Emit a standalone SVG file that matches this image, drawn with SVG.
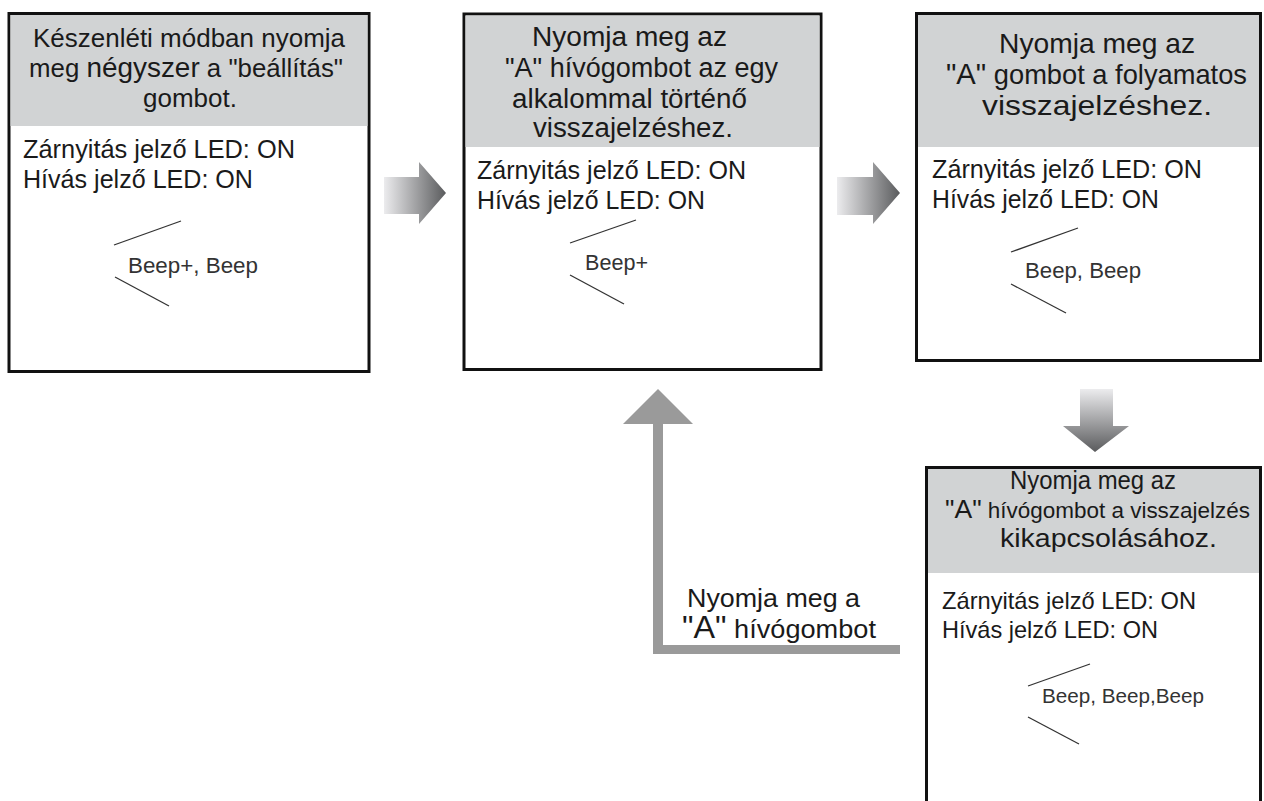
<svg xmlns="http://www.w3.org/2000/svg" width="1264" height="801" viewBox="0 0 1264 801">
<defs>
<linearGradient id="gh" x1="0" y1="0" x2="1" y2="0">
<stop offset="0" stop-color="#ececee"/>
<stop offset="1" stop-color="#5a5b5d"/>
</linearGradient>
<linearGradient id="gv" x1="0" y1="0" x2="0" y2="1">
<stop offset="0" stop-color="#ececee"/>
<stop offset="1" stop-color="#5a5b5d"/>
</linearGradient>
</defs>
<style>
text{font-family:"Liberation Sans",Arial,sans-serif;fill:#1a1a1a}
.box{fill:#fff;stroke:#111;stroke-width:3}
.hd{fill:#d1d3d4}
.bp{fill:#333}
.sl{stroke:#333;stroke-width:1.3;fill:none}
</style>
<rect width="1264" height="801" fill="#fff"/>

<g id="connectors">
<polygon points="384,177 419,177 419,162 446,193 419,224 419,214 384,214" fill="url(#gh)"/>
<polygon points="837,177 873,177 873,162 900,193 873,224 873,215 837,215" fill="url(#gh)"/>
<polygon points="1080,389 1113,389 1113,426 1129,426 1095,452 1063,426 1080,426" fill="url(#gv)"/>
<path d="M653,424 H623 L658,389 L693,424 H663 V645 H900 V654 H653 Z" fill="#9a9a9a"/>
<text x="687" y="607" font-size="26" textLength="173" lengthAdjust="spacingAndGlyphs">Nyomja meg a</text>
<text x="682" y="638" font-size="26" textLength="194" lengthAdjust="spacingAndGlyphs"><tspan font-size="31">"A"</tspan> hívógombot</text>
</g>

<g id="node1">
<rect class="box" x="9" y="13.5" width="360" height="358"/>
<rect class="hd" x="10.5" y="15" width="357" height="111"/>
<text x="33" y="47" font-size="25" textLength="312" lengthAdjust="spacingAndGlyphs">Készenléti módban nyomja</text>
<text x="29" y="77" font-size="25" textLength="314" lengthAdjust="spacingAndGlyphs">meg <tspan font-size="27">négyszer</tspan> a "beállítás"</text>
<text x="143" y="107" font-size="25" textLength="94" lengthAdjust="spacingAndGlyphs">gombot.</text>
<text x="23" y="158" font-size="25" textLength="272" lengthAdjust="spacingAndGlyphs">Zárnyitás jelző LED: ON</text>
<text x="23" y="188" font-size="25" textLength="230" lengthAdjust="spacingAndGlyphs">Hívás jelző LED: ON</text>
<line class="sl" x1="114" y1="245" x2="181" y2="221"/>
<line class="sl" x1="115" y1="277" x2="169" y2="306"/>
<text class="bp" x="128" y="273" font-size="22" textLength="130" lengthAdjust="spacingAndGlyphs">Beep+, Beep</text>
</g>

<g id="node2">
<rect class="box" x="464" y="14" width="357" height="355.5"/>
<rect class="hd" x="465.5" y="15.5" width="354" height="131.5"/>
<text x="532" y="46" font-size="27" textLength="195" lengthAdjust="spacingAndGlyphs">Nyomja meg az</text>
<text x="505" y="77" font-size="27" textLength="273" lengthAdjust="spacingAndGlyphs">"A" hívógombot az egy</text>
<text x="512" y="108" font-size="27" textLength="235" lengthAdjust="spacingAndGlyphs">alkalommal történő</text>
<text x="533" y="137" font-size="27" textLength="200" lengthAdjust="spacingAndGlyphs">visszajelzéshez.</text>
<text x="477" y="179" font-size="25" textLength="269" lengthAdjust="spacingAndGlyphs">Zárnyitás jelző LED: ON</text>
<text x="477" y="209" font-size="25" textLength="228" lengthAdjust="spacingAndGlyphs">Hívás jelző LED: ON</text>
<line class="sl" x1="570" y1="243" x2="636" y2="220"/>
<line class="sl" x1="570" y1="275" x2="624" y2="304"/>
<text class="bp" x="585" y="270" font-size="22" textLength="63" lengthAdjust="spacingAndGlyphs">Beep+</text>
</g>

<g id="node3">
<rect class="box" x="916.5" y="13.5" width="344" height="347"/>
<rect class="hd" x="918" y="15" width="341" height="132"/>
<text x="999" y="53" font-size="28" textLength="196" lengthAdjust="spacingAndGlyphs">Nyomja meg az</text>
<text x="946" y="84" font-size="28" textLength="301" lengthAdjust="spacingAndGlyphs"><tspan font-size="30">"A"</tspan> gombot a folyamatos</text>
<text x="982" y="115" font-size="28" textLength="230" lengthAdjust="spacingAndGlyphs">visszajelzéshez.</text>
<text x="932" y="178" font-size="25" textLength="270" lengthAdjust="spacingAndGlyphs">Zárnyitás jelző LED: ON</text>
<text x="932" y="208" font-size="25" textLength="227" lengthAdjust="spacingAndGlyphs">Hívás jelző LED: ON</text>
<line class="sl" x1="1011" y1="252" x2="1078" y2="228"/>
<line class="sl" x1="1011" y1="284" x2="1066" y2="313"/>
<text class="bp" x="1025" y="278" font-size="22" textLength="116" lengthAdjust="spacingAndGlyphs">Beep, Beep</text>
</g>

<g id="node4">
<path d="M926.5,801 V467.5 H1260.5 V801" fill="#fff" stroke="#111" stroke-width="3"/>
<rect class="hd" x="928" y="469" width="331" height="104"/>
<text x="1010" y="489" font-size="25" textLength="166" lengthAdjust="spacingAndGlyphs">Nyomja meg az</text>
<text x="945" y="518" font-size="22" textLength="305" lengthAdjust="spacingAndGlyphs"><tspan font-size="26">"A"</tspan> hívógombot a visszajelzés</text>
<text x="1000" y="547" font-size="25" textLength="217" lengthAdjust="spacingAndGlyphs">kikapcsolásához.</text>
<text x="942" y="609" font-size="24" textLength="254" lengthAdjust="spacingAndGlyphs">Zárnyitás jelző LED: ON</text>
<text x="942" y="638" font-size="24" textLength="216" lengthAdjust="spacingAndGlyphs">Hívás jelző LED: ON</text>
<line class="sl" x1="1028" y1="686" x2="1090" y2="664"/>
<line class="sl" x1="1028" y1="717" x2="1079" y2="744"/>
<text class="bp" x="1042" y="703" font-size="21" textLength="162" lengthAdjust="spacingAndGlyphs">Beep, Beep,Beep</text>
</g>
</svg>
